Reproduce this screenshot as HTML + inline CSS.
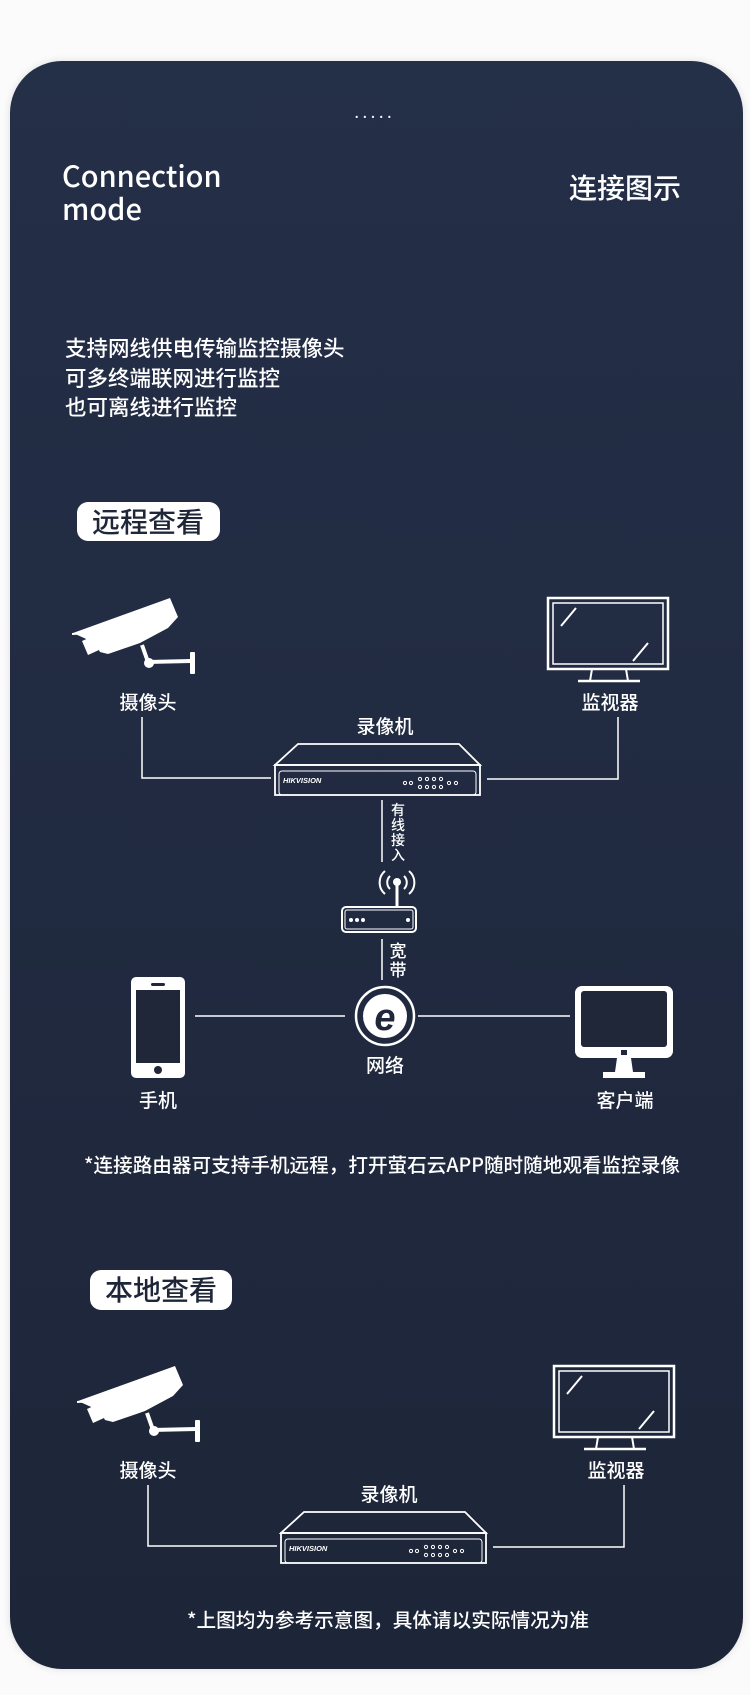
<!DOCTYPE html>
<html><head><meta charset="utf-8"><style>
html,body{margin:0;padding:0;background:#fbfbfb;}
body{width:750px;height:1695px;position:relative;overflow:hidden;font-family:"Liberation Sans","Noto Sans CJK SC",sans-serif;}
.card{position:absolute;left:10px;top:61px;width:733px;height:1608px;border-radius:52px;background:linear-gradient(#242f48,#1d2538);box-shadow:0 0 8px rgba(0,0,0,0.12);}
svg{position:absolute;left:0;top:0;}
svg text{font-family:"Noto Sans CJK SC","Liberation Sans",sans-serif;fill:#fff;font-weight:500;}
</style></head><body>
<div class="card"></div>
<svg width="750" height="1695" viewBox="0 0 750 1695">
<defs>
<g id="cam">
<polygon points="73,633 170,598 178,617 168,628 140,643 108,654 100,652 95,643" fill="#fff"/>
<polygon points="82,641 93,636 99,650 88,655" fill="#fff"/>
<line x1="72" y1="634" x2="112" y2="632" stroke="#fff" stroke-width="2"/>
<polyline points="142,645 148,662 191,661" fill="none" stroke="#fff" stroke-width="4"/>
<circle cx="149" cy="663" r="5" fill="#fff"/>
<rect x="190" y="652" width="5" height="22" rx="1" fill="#fff"/>
</g>
<g id="mon" fill="none" stroke="#fff">
<rect x="548" y="598" width="120" height="71" stroke-width="2.5"/>
<rect x="553" y="603" width="110" height="61" stroke-width="1.5"/>
<line x1="561" y1="626" x2="576" y2="608" stroke-width="2"/>
<line x1="633" y1="661" x2="648" y2="643" stroke-width="2"/>
<polyline points="592,669 590,681 628,681 626,669" stroke-width="2"/>
<line x1="578" y1="681" x2="640" y2="681" stroke-width="2.5"/>
</g>
<g id="dvr">
<polygon points="298,744 459,744 480,765 275,765" fill="none" stroke="#fff" stroke-width="1.8"/>
<rect x="275" y="765" width="205" height="30" fill="none" stroke="#fff" stroke-width="1.8"/>
<rect x="279" y="771" width="197" height="24" rx="3" fill="none" stroke="#fff" stroke-width="1"/>
<text x="283" y="783" font-size="7.5" font-weight="bold" font-style="italic" style="font-family:'Liberation Sans',sans-serif;font-weight:bold">HIKVISION</text>
<g fill="none" stroke="#fff" stroke-width="1">
<circle cx="405" cy="783" r="1.6"/><circle cx="411" cy="783" r="1.6"/>
<circle cx="420" cy="779" r="1.6"/><circle cx="427" cy="779" r="1.6"/><circle cx="434" cy="779" r="1.6"/><circle cx="441" cy="779" r="1.6"/>
<circle cx="420" cy="787" r="1.6"/><circle cx="427" cy="787" r="1.6"/><circle cx="434" cy="787" r="1.6"/><circle cx="441" cy="787" r="1.6"/>
<circle cx="449" cy="783" r="1.6"/><circle cx="456" cy="783" r="1.6"/>
</g>
</g>
</defs>
<text x="375" y="118" font-size="14" text-anchor="middle" letter-spacing="4">.....</text>
<text x="62" y="187" font-size="29">Connection</text>
<text x="62" y="220" font-size="29">mode</text>
<text x="569" y="198" font-size="28">连接图示</text>
<text x="65" y="356" font-size="21.5">支持网线供电传输监控摄像头</text>
<text x="65" y="386" font-size="21.5">可多终端联网进行监控</text>
<text x="65" y="415" font-size="21.5">也可离线进行监控</text>
<rect x="77" y="502" width="143" height="39" rx="11" fill="#fff"/>
<text x="148" y="532" font-size="28" text-anchor="middle" style="fill:#1e2638">远程查看</text>

<g id="top">
<use href="#cam"/>
<use href="#mon"/>
<use href="#dvr"/>
<text x="148" y="709" font-size="19" text-anchor="middle">摄像头</text>
<text x="610" y="709" font-size="19" text-anchor="middle">监视器</text>
<text x="385" y="733" font-size="19" text-anchor="middle">录像机</text>
<polyline points="142,717 142,778 271,778" fill="none" stroke="#fff" stroke-width="1.5"/>
<polyline points="618,717 618,779 487,779" fill="none" stroke="#fff" stroke-width="1.5"/>
</g>
<line x1="382" y1="800" x2="382" y2="862" stroke="#fff" stroke-width="1.5"/>
<text x="398" y="815" font-size="14" text-anchor="middle">有</text>
<text x="398" y="830" font-size="14" text-anchor="middle">线</text>
<text x="398" y="845" font-size="14" text-anchor="middle">接</text>
<text x="398" y="860" font-size="14" text-anchor="middle">入</text>
<g fill="none" stroke="#fff" stroke-width="2">
<circle cx="397" cy="882" r="3" fill="#fff"/>
<line x1="397" y1="885" x2="397" y2="906" stroke-width="3"/>
<path d="M390,876 A9,9 0 0 0 390,889"/><path d="M404,876 A9,9 0 0 1 404,889"/>
<path d="M385,871 A15,15 0 0 0 385,894"/><path d="M409,871 A15,15 0 0 1 409,894"/>
<rect x="342" y="907" width="74" height="25" rx="4"/>
<rect x="345" y="910" width="68" height="19" rx="2" stroke-width="1"/>
</g>
<g fill="#fff"><circle cx="351" cy="920" r="2"/><circle cx="357" cy="920" r="2"/><circle cx="363" cy="920" r="2"/><circle cx="408" cy="920" r="2"/></g>
<line x1="382" y1="939" x2="382" y2="980" stroke="#fff" stroke-width="1.5"/>
<text x="398" y="957" font-size="17" text-anchor="middle">宽</text>
<text x="398" y="976" font-size="17" text-anchor="middle">带</text>
<circle cx="385" cy="1016" r="29" fill="none" stroke="#fff" stroke-width="2.5"/>
<circle cx="385" cy="1016" r="22" fill="#fff"/>
<text x="385" y="1030" font-size="38" font-weight="bold" font-style="italic" text-anchor="middle" style="fill:#1f2739;font-family:'Liberation Sans',sans-serif;font-weight:bold">e</text>
<line x1="195" y1="1016" x2="345" y2="1016" stroke="#fff" stroke-width="1.5"/>
<line x1="418" y1="1016" x2="570" y2="1016" stroke="#fff" stroke-width="1.5"/>
<text x="385" y="1072" font-size="19" text-anchor="middle">网络</text>
<rect x="131" y="977" width="54" height="101" rx="5" fill="#fff"/>
<rect x="136" y="990" width="44" height="73" fill="#1f2739"/>
<rect x="151" y="983" width="14" height="3" rx="1.5" fill="#1f2739"/>
<circle cx="158" cy="1070" r="4" fill="#1f2739"/>
<text x="158" y="1107" font-size="19" text-anchor="middle">手机</text>
<rect x="575" y="986" width="98" height="72" rx="7" fill="#fff"/>
<rect x="581" y="991" width="86" height="56" rx="3" fill="#1f2739"/>
<rect x="621" y="1050" width="6" height="5" fill="#1f2739"/>
<polygon points="617,1058 631,1058 633,1072 615,1072" fill="#fff"/>
<rect x="603" y="1072" width="42" height="6" fill="#fff"/>
<text x="625" y="1107" font-size="19" text-anchor="middle">客户端</text>

<text x="382" y="1172" font-size="19.5" text-anchor="middle" textLength="596" lengthAdjust="spacingAndGlyphs">*连接路由器可支持手机远程，打开萤石云APP随时随地观看监控录像</text>

<rect x="90" y="1270" width="142" height="40" rx="11" fill="#fff"/>
<text x="161" y="1300" font-size="28" text-anchor="middle" style="fill:#1e2638">本地查看</text>
<g transform="translate(5,768)">
<use href="#cam"/>
</g>
<g transform="translate(6,768)">
<use href="#mon"/>
<use href="#dvr"/>
<text x="142" y="709" font-size="19" text-anchor="middle">摄像头</text>
<text x="610" y="709" font-size="19" text-anchor="middle">监视器</text>
<text x="383" y="733" font-size="19" text-anchor="middle">录像机</text>
<polyline points="142,717 142,778 271,778" fill="none" stroke="#fff" stroke-width="1.5"/>
<polyline points="618,717 618,779 487,779" fill="none" stroke="#fff" stroke-width="1.5"/>
</g>
<text x="388" y="1627" font-size="19.5" text-anchor="middle" textLength="402" lengthAdjust="spacingAndGlyphs">*上图均为参考示意图，具体请以实际情况为准</text>
</svg>
</body></html>
